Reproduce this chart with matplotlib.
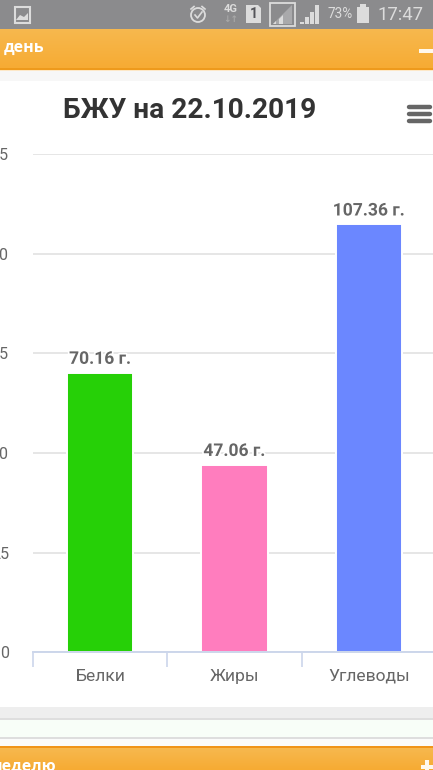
import matplotlib
matplotlib.use("Agg")
import matplotlib.pyplot as plt
import matplotlib.patheffects as pe
from matplotlib.patches import Rectangle, Polygon, Circle
import numpy as np

categories = ["Белки", "Жиры", "Углеводы"]
values = [70.16, 47.06, 107.36]
bar_labels = ["70.16 г.", "47.06 г.", "107.36 г."]
colors = ["#26d007", "#ff7dbe", "#6b87ff"]
y_ticks = [0, 25, 50, 75, 100, 125]
title = "БЖУ на 22.10.2019"

W, H = 433, 770
plt.rcParams['font.family'] = ['Roboto', 'DejaVu Sans']
fig = plt.figure(figsize=(W/100, H/100), dpi=100, facecolor="white")

bg = fig.add_axes([0, 0, 1, 1], zorder=0)
bg.set_xlim(0, W); bg.set_ylim(H, 0); bg.axis("off")

def band(y0, y1, c, x0=0, x1=W):
    bg.add_patch(Rectangle((x0, y0), x1-x0, y1-y0, color=c, lw=0))

band(0, 29, "#8b8b8d")
top = np.array([0xf7, 0xb8, 0x4e]) / 255
bot = np.array([0xf6, 0xab, 0x33]) / 255
g = np.linspace(0, 1, 40)[:, None, None] * (bot - top)[None, None, :] + top
bg.imshow(g, extent=(0, W, 69, 29), aspect="auto", zorder=1)
bg.set_xlim(0, W); bg.set_ylim(H, 0)
band(68, 70, "#ee9a1c"); band(70, 71, "#fde8c8"); band(71, 81, "#f7f7f7")
band(707, 718, "#eeeeee"); band(718, 720, "#dedede"); band(720, 737, "#f8fef8")
band(737, 739, "#dedede"); band(739, 746, "#fbfbfb")
band(746, 748, "#f0941a")
g2 = np.linspace(0, 1, 22)[:, None, None] * (bot - top)[None, None, :] + top
bg.imshow(g2, extent=(0, W, 770, 748), aspect="auto", zorder=1)
bg.set_xlim(0, W); bg.set_ylim(H, 0)

# orange headers
bg.text(3.5, 48, "день", color="white", fontsize=11.5, family=['Open Sans', 'DejaVu Sans'], fontweight="bold", va="center", ha="left", zorder=3)
bg.text(56, 767, "неделю", color="white", fontsize=11.5, family=['Open Sans', 'DejaVu Sans'], fontweight="bold", va="center", ha="right", zorder=3)
bg.add_patch(Rectangle((419, 49), 14, 4, color="#fff8ec", lw=0, zorder=3))
bg.add_patch(Rectangle((421, 765), 12, 4, color="#fff8ec", lw=0, zorder=3))
bg.add_patch(Rectangle((425, 760), 4, 10, color="#fff8ec", lw=0, zorder=3))

# status bar
sc = "#dcdcdc"
bg.add_patch(Rectangle((14.5, 6.5), 15, 16, fill=False, ec=sc, lw=1.5, zorder=3))
bg.add_patch(Polygon([(16, 20), (20, 15), (24, 17), (28, 13), (28, 20)], color=sc, lw=0, zorder=3))
bg.add_patch(Circle((198, 15), 7, fill=False, ec=sc, lw=1.3, zorder=3))
bg.plot([195, 197.5, 202], [15, 18, 12], color=sc, lw=1.2, zorder=3)
bg.plot([191, 194], [9, 6.5], color=sc, lw=1.2, zorder=3)
bg.plot([202, 205], [6.5, 9], color=sc, lw=1.2, zorder=3)
bg.text(231, 8.5, "4G", color=sc, fontsize=8, fontweight="bold", ha="center", va="center", zorder=3)
bg.text(231, 19.5, "↓↑", color="#a8a8a8", fontsize=6.5, fontweight="bold", ha="center", va="center",
        family=['DejaVu Sans'], zorder=3)
bg.add_patch(Polygon([(246, 5), (258, 5), (261, 8), (261, 23), (246, 23)], color=sc, lw=0, zorder=3))
bg.text(253.5, 14.5, "1", color="#55555a", fontsize=10, fontweight="bold", ha="center", va="center", zorder=3)
bg.add_patch(Rectangle((269.5, 2.5), 25, 23, fill=False, ec=sc, lw=1.3, zorder=3))
bg.add_patch(Polygon([(273, 24), (292, 24), (292, 5)], color="#a9a9ab", lw=0, zorder=3))
bg.add_patch(Polygon([(273, 24), (276, 24), (276, 21)], color=sc, lw=0, zorder=3))
bg.add_patch(Polygon([(279, 24), (283, 24), (283, 15), (279, 19)], color=sc, lw=0, zorder=3))
for x0, yt in zip([300, 305, 310, 315], [22, 17, 12, 5]):
    bg.add_patch(Rectangle((x0, yt), 3.6, 24-yt, color=sc, lw=0, zorder=3))
bg.text(327, 14.5, "73%", color=sc, fontsize=9.8, ha="left", va="center", zorder=3)
bg.add_patch(Rectangle((357, 7), 12, 16, color=sc, lw=0, zorder=3))
bg.add_patch(Rectangle((360, 4), 6, 3, color=sc, lw=0, zorder=3))
bg.text(377.5, 15, "17:47", color=sc, fontsize=13.2, ha="left", va="center", zorder=3)

# chart
ax = fig.add_axes([33/W, (H-652.4)/H, 403/W, 498.4/H], zorder=2)
ax.patch.set_alpha(0)
x = np.arange(len(categories))
ax.bar(x, values, width=66/134.3, color=colors, edgecolor="white", linewidth=1.4)
ax.set_xlim(-0.5, 2.5)
ax.set_ylim(0, 125)
ax.set_yticks(y_ticks)
ax.yaxis.grid(True, color="#e6e6e6", lw=1.4)
ax.set_axisbelow(True)
for s in ["top", "right", "left"]:
    ax.spines[s].set_visible(False)
ax.spines["bottom"].set_color("#ccd6eb")
ax.spines["bottom"].set_linewidth(1.4)
ax.tick_params(axis="y", length=0, pad=17.3, labelsize=11.5, labelcolor="#666666")
ax.set_xticks([-0.5, 0.5, 1.5, 2.5])
ax.set_xticklabels([])
ax.tick_params(axis="x", which="major", length=10.5, width=1.2, color="#ccd6eb")
ax.set_xticks(x, minor=True)
ax.set_xticklabels(categories, minor=True)
ax.tick_params(axis="x", which="minor", length=0, pad=11.6, labelsize=12.6, labelcolor="#666666")
for xi, v, s in zip(x, values, bar_labels):
    ax.annotate(s, (xi, v), xytext=(0, 9.6), textcoords="offset points", ha="center", va="center",
                fontsize=12.6, fontweight="bold", color="#666666",
                path_effects=[pe.withStroke(linewidth=2.5, foreground="white")])
fig.text(190/W, 1-110/H, title, ha="center", va="center", fontsize=20.2, fontweight="bold", color="#333333")

# menu icon
for yy in [107, 114, 121]:
    bg.plot([409, 430], [yy, yy], color="#666666", lw=3.2, solid_capstyle="round", zorder=3)

fig.savefig("out.png", dpi=100)
